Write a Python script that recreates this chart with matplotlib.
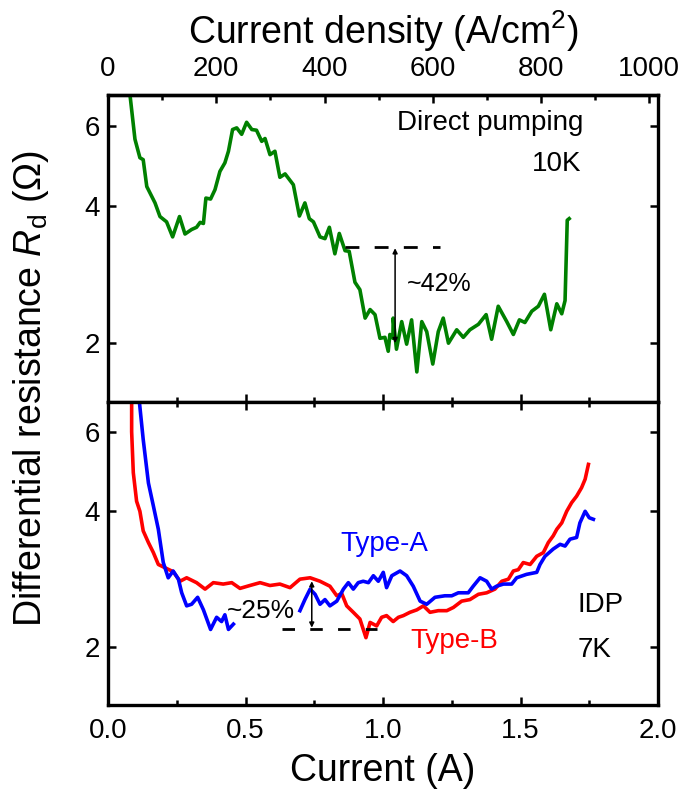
import matplotlib
matplotlib.use("Agg")
import matplotlib.pyplot as plt
from matplotlib.ticker import MultipleLocator, NullLocator, FixedLocator, FixedFormatter

plt.rcParams['font.family'] = ['Liberation Sans', 'DejaVu Sans']
plt.rcParams['mathtext.fontset'] = 'custom'
plt.rcParams['mathtext.rm'] = 'Liberation Sans'
plt.rcParams['mathtext.it'] = 'Liberation Sans:italic'

# ---------------- data ----------------
# Top panel: direct pumping, 10 K (current in A, Rd in Ohm)
direct_x = [0.072, 0.080, 0.098, 0.116, 0.128, 0.141, 0.171, 0.189, 0.213, 0.235, 0.260, 0.280,
            0.304, 0.322, 0.335, 0.347, 0.356, 0.373, 0.389, 0.407, 0.425, 0.438, 0.453, 0.468,
            0.486, 0.504, 0.523, 0.540, 0.559, 0.571, 0.589, 0.607, 0.625, 0.644, 0.674, 0.696,
            0.716, 0.732, 0.747, 0.771, 0.789, 0.805, 0.825, 0.841, 0.862, 0.877, 0.898, 0.916,
            0.935, 0.953, 0.971, 0.989, 1.007, 1.019, 1.025, 1.036, 1.037, 1.049, 1.068, 1.086,
            1.104, 1.123, 1.141, 1.159, 1.181, 1.201, 1.219, 1.238, 1.268, 1.292, 1.316, 1.347,
            1.375, 1.395, 1.419, 1.450, 1.474, 1.496, 1.516, 1.541, 1.565, 1.587, 1.610, 1.632,
            1.650, 1.662, 1.670, 1.677]
direct_y = [7.6, 7.0, 5.6, 5.1, 5.05, 4.41, 4.06, 3.79, 3.69, 3.42, 3.79, 3.47,
            3.55, 3.59, 3.68, 3.66, 4.16, 4.14, 4.34, 4.76, 4.97, 5.27, 5.88, 5.93,
            5.74, 6.10, 5.88, 5.86, 5.54, 5.62, 5.18, 5.27, 4.62, 4.70, 4.45, 3.80,
            4.06, 3.75, 3.69, 3.42, 3.39, 3.59, 3.14, 3.48, 3.19, 3.18, 2.72, 2.62,
            2.27, 2.37, 2.31, 2.05, 2.06, 1.92, 2.09, 2.05, 2.27, 1.94, 2.23, 1.99,
            2.25, 1.73, 2.23, 2.12, 1.80, 2.12, 2.27, 2.00, 2.14, 2.06, 2.14, 2.20,
            2.31, 2.04, 2.41, 2.23, 2.09, 2.25, 2.22, 2.35, 2.41, 2.56, 2.14, 2.44,
            2.32, 2.48, 3.72, 3.75]

# Bottom panel: IDP, 7 K, Type-B (red)
typeB_x = [0.086, 0.086, 0.092, 0.104, 0.116, 0.128, 0.147, 0.165, 0.183, 0.207, 0.237, 0.262,
           0.286, 0.322, 0.353, 0.383, 0.419, 0.450, 0.480, 0.516, 0.553, 0.589, 0.625, 0.662,
           0.698, 0.735, 0.771, 0.807, 0.832, 0.850, 0.868, 0.892, 0.916, 0.938, 0.953, 0.977,
           0.995, 1.013, 1.037, 1.056, 1.074, 1.098, 1.123, 1.147, 1.171, 1.201, 1.232, 1.256,
           1.286, 1.316, 1.347, 1.377, 1.407, 1.432, 1.456, 1.474, 1.492, 1.510, 1.535, 1.559,
           1.583, 1.601, 1.619, 1.632, 1.650, 1.668, 1.686, 1.704, 1.722, 1.735, 1.747]
typeB_y = [7.6, 6.0, 4.87, 4.21, 4.00, 3.62, 3.41, 3.24, 3.05, 3.00, 2.94, 2.80,
           2.85, 2.78, 2.69, 2.78, 2.76, 2.78, 2.70, 2.74, 2.78, 2.74, 2.76, 2.71,
           2.83, 2.85, 2.80, 2.73, 2.60, 2.63, 2.47, 2.39, 2.31, 2.10, 2.27, 2.23,
           2.33, 2.35, 2.28, 2.33, 2.35, 2.39, 2.42, 2.47, 2.39, 2.41, 2.41, 2.45,
           2.53, 2.55, 2.62, 2.64, 2.69, 2.80, 2.83, 2.95, 2.97, 3.08, 3.05, 3.18,
           3.24, 3.41, 3.53, 3.65, 3.77, 4.00, 4.18, 4.32, 4.51, 4.71, 5.08]

# Type-A (blue), first segment
typeA_x1 = [0.108, 0.128, 0.147, 0.165, 0.183, 0.201, 0.219, 0.237, 0.256, 0.268, 0.286, 0.304,
            0.326, 0.347, 0.373, 0.395, 0.413, 0.425, 0.438, 0.456]
typeA_y1 = [7.6, 5.77, 4.62, 4.11, 3.65, 3.08, 2.85, 2.95, 2.83, 2.64, 2.47, 2.49,
            2.58, 2.42, 2.19, 2.33, 2.28, 2.36, 2.19, 2.25]
# Type-A (blue), second segment
typeA_x2 = [0.698, 0.716, 0.735, 0.753, 0.771, 0.789, 0.807, 0.832, 0.856, 0.874, 0.892, 0.910,
            0.928, 0.947, 0.965, 0.983, 1.001, 1.013, 1.032, 1.062, 1.086, 1.110, 1.135, 1.159,
            1.189, 1.225, 1.250, 1.274, 1.310, 1.328, 1.353, 1.377, 1.395, 1.413, 1.438, 1.468,
            1.486, 1.522, 1.559, 1.571, 1.589, 1.619, 1.644, 1.662, 1.680, 1.704, 1.716, 1.735,
            1.750, 1.765]
typeA_y2 = [2.41, 2.55, 2.69, 2.62, 2.49, 2.55, 2.47, 2.53, 2.69, 2.78, 2.69, 2.78,
            2.80, 2.78, 2.88, 2.80, 2.93, 2.71, 2.88, 2.95, 2.88, 2.73, 2.53, 2.49,
            2.58, 2.60, 2.60, 2.64, 2.64, 2.73, 2.85, 2.80, 2.69, 2.73, 2.76, 2.76,
            2.85, 2.90, 2.93, 3.05, 3.18, 3.30, 3.38, 3.35, 3.47, 3.50, 3.77, 4.00,
            3.87, 3.84]

rd_ticks = [2, 4, 6]
rd_ticklabels = ['2', '4', '6']
density_ticks = [0, 200, 400, 600, 800, 1000]
density_per_amp = 508.0   # A/cm^2 per A (top axis conversion)

# ---------------- figure ----------------
W, H = 680, 797
fig = plt.figure(figsize=(W / 100, H / 100), dpi=100)

left, right = 108 / W, 658 / W
ax1 = fig.add_axes([left, 1 - 401.5 / H, right - left, 306.5 / H])
ax2 = fig.add_axes([left, 1 - 705 / H, right - left, 303.5 / H])

green, blue, red = '#008000', '#0000FF', '#FF0000'
lw = 2.6
ax1.plot(direct_x, direct_y, color=green, lw=lw)
ax2.plot(typeB_x, typeB_y, color=red, lw=lw)
ax2.plot(typeA_x1, typeA_y1, color=blue, lw=lw)
ax2.plot(typeA_x2, typeA_y2, color=blue, lw=lw)

for ax in (ax1, ax2):
    ax.set_yscale('log')
    ax.set_xlim(0, 2.0)
    ax.set_ylim(1.49, 7.0)
    ax.yaxis.set_major_locator(FixedLocator(rd_ticks))
    ax.yaxis.set_major_formatter(FixedFormatter(rd_ticklabels))
    ax.yaxis.set_minor_locator(NullLocator())
    ax.xaxis.set_major_locator(MultipleLocator(0.5))
    ax.xaxis.set_minor_locator(MultipleLocator(0.25))
    ax.tick_params(which='both', direction='in', top=True, right=True, width=1.8,
                   labelsize=20)
    ax.tick_params(which='major', length=6)
    ax.tick_params(which='minor', length=3.5)
    for s in ax.spines.values():
        s.set_linewidth(2.4)

ax1.tick_params(axis='x', labelbottom=False)
ax1.tick_params(axis='x', which='both', top=False)
ax2.tick_params(axis='x', pad=9)
ax1.tick_params(axis='y', pad=6)
ax2.tick_params(axis='y', pad=6)

sec = ax1.secondary_xaxis('top', functions=(lambda a: a * density_per_amp,
                                             lambda d: d / density_per_amp))
sec.xaxis.set_major_locator(FixedLocator(density_ticks))
sec.xaxis.set_minor_locator(FixedLocator([100, 300, 500, 700, 900]))
sec.tick_params(which='both', direction='in', width=1.8, labelsize=20, pad=9)
sec.tick_params(which='major', length=6)
sec.tick_params(which='minor', length=3.5)
sec.spines['top'].set_linewidth(2.4)
sec.set_xlabel('Current density (A/cm$^2$)', fontsize=27, labelpad=9)

ax2.set_xlabel('Current (A)', fontsize=27, labelpad=7)
fig.text(0.046, 0.512, 'Differential resistance $R_{\\mathrm{d}}$ (\u03a9)', rotation=90,
         ha='center', va='center', fontsize=27)

# annotations top
ax1.plot([0.862, 1.207], [3.25, 3.25], color='k', lw=2, linestyle=(0, (5, 5.5)))
ax1.annotate('', xy=(1.044, 2.0), xytext=(1.044, 3.23),
             arrowprops=dict(arrowstyle='<|-|>', color='k', lw=1.1, mutation_scale=7,
                             shrinkA=0, shrinkB=0))
ax1.text(1.087, 2.70, '~42%', fontsize=18, va='center', ha='left')
ax1.text(1.051, 6.08, 'Direct pumping', fontsize=20, va='center', ha='left')
ax1.text(1.542, 4.93, '10K', fontsize=20, va='center', ha='left')

# annotations bottom
ax2.plot([0.632, 0.977], [2.20, 2.20], color='k', lw=2, linestyle=(0, (4.5, 5.5)))
ax2.annotate('', xy=(0.741, 2.21), xytext=(0.741, 2.80),
             arrowprops=dict(arrowstyle='<|-|>', color='k', lw=1.1, mutation_scale=7,
                             shrinkA=0, shrinkB=0))
ax2.text(0.433, 2.41, '~25%', fontsize=19, va='center', ha='left')
ax2.text(0.844, 3.38, 'Type-A', fontsize=20, va='center', ha='left', color=blue)
ax2.text(1.098, 2.06, 'Type-B', fontsize=20, va='center', ha='left', color=red)
ax2.text(1.709, 2.48, 'IDP', fontsize=20, va='center', ha='left')
ax2.text(1.709, 1.97, '7K', fontsize=20, va='center', ha='left')

fig.savefig('out.png', dpi=100)
